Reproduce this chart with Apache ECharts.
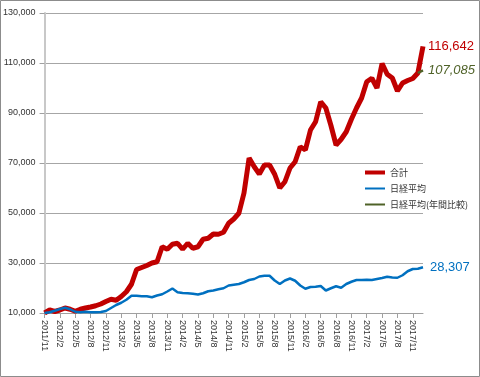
<!DOCTYPE html>
<html>
<head>
<meta charset="utf-8">
<script src="https://cdn.jsdelivr.net/npm/echarts@6/dist/echarts.min.js"></script>
<style>
  html, body { margin: 0; padding: 0; background: #fff; }
  #chart { width: 480px; height: 377px; }
</style>
</head>
<body>
<div id="chart"></div>
<script>
// months 2011/11 .. 2018/1
var months = [];
for (var y = 2011, m = 11; months.length < 75; m++) {
  if (m > 12) { m = 1; y++; }
  months.push(y + '/' + m);
}

var total = [
  10000, 11200, 10600, 11200, 12000, 11500, 10700, 11500, 12000, 12400,
  12900, 13600, 14600, 15500, 15100, 16600, 18500, 21500, 27400, 28200,
  29000, 30000, 30500, 36500, 35500, 37500, 37900, 35500, 37900, 35900,
  36500, 39500, 39900, 41600, 41500, 42300, 45900, 47600, 49900, 58000,
  72000, 68500, 65600, 69200, 69200, 65500, 60000, 62500, 68000, 70500,
  76500, 75200, 83200, 86500, 94500, 92000, 85000, 77200, 79500, 82500,
  87500, 92000, 96000, 102500, 103900, 100000, 109800, 105500, 104000, 98800,
  102000, 103000, 103800, 106000, 116642
];

var nikkei = [
  10000, 10300, 10900, 11600, 12100, 11500, 10500, 10300, 10500, 10300,
  10300, 10400, 10800, 12000, 13200, 14100, 15300, 16900, 16900, 16700,
  16700, 16300, 17000, 17500, 18600, 19800, 18300, 18000, 17900, 17700,
  17400, 17900, 18700, 19000, 19500, 19900, 21000, 21300, 21600, 22300,
  23200, 23600, 24600, 24900, 24900, 23000, 21600, 23000, 23800, 22900,
  21000, 19700, 20400, 20500, 20800, 19000, 19900, 20700, 20100, 21600,
  22500, 23200, 23200, 23300, 23200, 23600, 24000, 24500, 24200, 24100,
  25100, 26700, 27600, 27700, 28307
];

// only the last stretch is drawn
var nikkeiYear = [];
for (var i = 0; i < 73; i++) nikkeiYear.push(null);
nikkeiYear.push(106000, 107085);

var yTicks = { min: 10000, max: 130000, step: 20000 };

function fmt(v) {
  return String(v).replace(/\B(?=(\d{3})+(?!\d))/g, ',');
}

var chart = echarts.init(document.getElementById('chart'));
chart.setOption({
  animation: false,
  backgroundColor: '#fff',
  textStyle: { fontFamily: '"Liberation Sans", Arial, "Noto Sans CJK JP", sans-serif' },
  grid: { left: 43, right: 57, top: 13, bottom: 64 },
  graphic: [{
    type: 'rect',
    shape: { x: 0.5, y: 0.5, width: 479, height: 376 },
    style: { fill: 'none', stroke: '#8c8c8c', lineWidth: 1 },
    silent: true
  }],
  legend: {
    orient: 'vertical',
    left: 363,
    top: 168,
    padding: 0,
    itemWidth: 20,
    itemHeight: 10,
    itemGap: 7,
    itemStyle: { opacity: 0 },
    textStyle: { fontSize: 9, color: '#333', fontFamily: '"Noto Sans CJK JP", sans-serif' },
    data: [
      { name: '合計', lineStyle: { width: 4 } },
      { name: '日経平均', lineStyle: { width: 2 } },
      { name: '日経平均(年間比較)', lineStyle: { width: 2 } }
    ]
  },
  xAxis: {
    type: 'category',
    data: months,
    boundaryGap: false,
    axisLine: { lineStyle: { color: '#a0a0a0', width: 1 } },
    axisTick: { show: true, interval: 2, length: 5, lineStyle: { color: '#a0a0a0' } },
    axisLabel: {
      interval: 2,
      rotate: -90,
      fontSize: 9,
      color: '#333',
      margin: 7
    },
    splitLine: { show: false }
  },
  yAxis: {
    type: 'value',
    min: yTicks.min,
    max: yTicks.max,
    interval: yTicks.step,
    axisLine: { show: true, lineStyle: { color: '#c8c8c8', width: 2 } },
    axisTick: { show: true, length: 5, lineStyle: { color: '#a0a0a0' } },
    axisLabel: { fontSize: 9, color: '#333', margin: 9, formatter: fmt },
    splitLine: { lineStyle: { color: '#a6a6a6', width: 1 } }
  },
  series: [
    {
      name: '合計',
      type: 'line',
      data: total,
      symbol: 'none',
      lineStyle: { color: '#c00000', width: 5 },
      itemStyle: { color: '#c00000' },
      endLabel: {
        show: true,
        distance: 5,
        color: '#c00000',
        fontSize: 13,
        formatter: function (p) { return fmt(p.value); }
      }
    },
    {
      name: '日経平均',
      type: 'line',
      data: nikkei,
      symbol: 'none',
      lineStyle: { color: '#0070c0', width: 2.5 },
      itemStyle: { color: '#0070c0' },
      endLabel: {
        show: true,
        distance: 7,
        color: '#0070c0',
        fontSize: 13,
        formatter: function (p) { return fmt(p.value); }
      }
    },
    {
      name: '日経平均(年間比較)',
      type: 'line',
      data: nikkeiYear,
      symbol: 'none',
      lineStyle: { color: '#4f6228', width: 2.5 },
      itemStyle: { color: '#4f6228' },
      endLabel: {
        show: true,
        distance: 5,
        color: '#4f6228',
        fontSize: 13,
        fontStyle: 'italic',
        formatter: function (p) { return fmt(p.value); }
      }
    }
  ]
});
</script>
</body>
</html>
